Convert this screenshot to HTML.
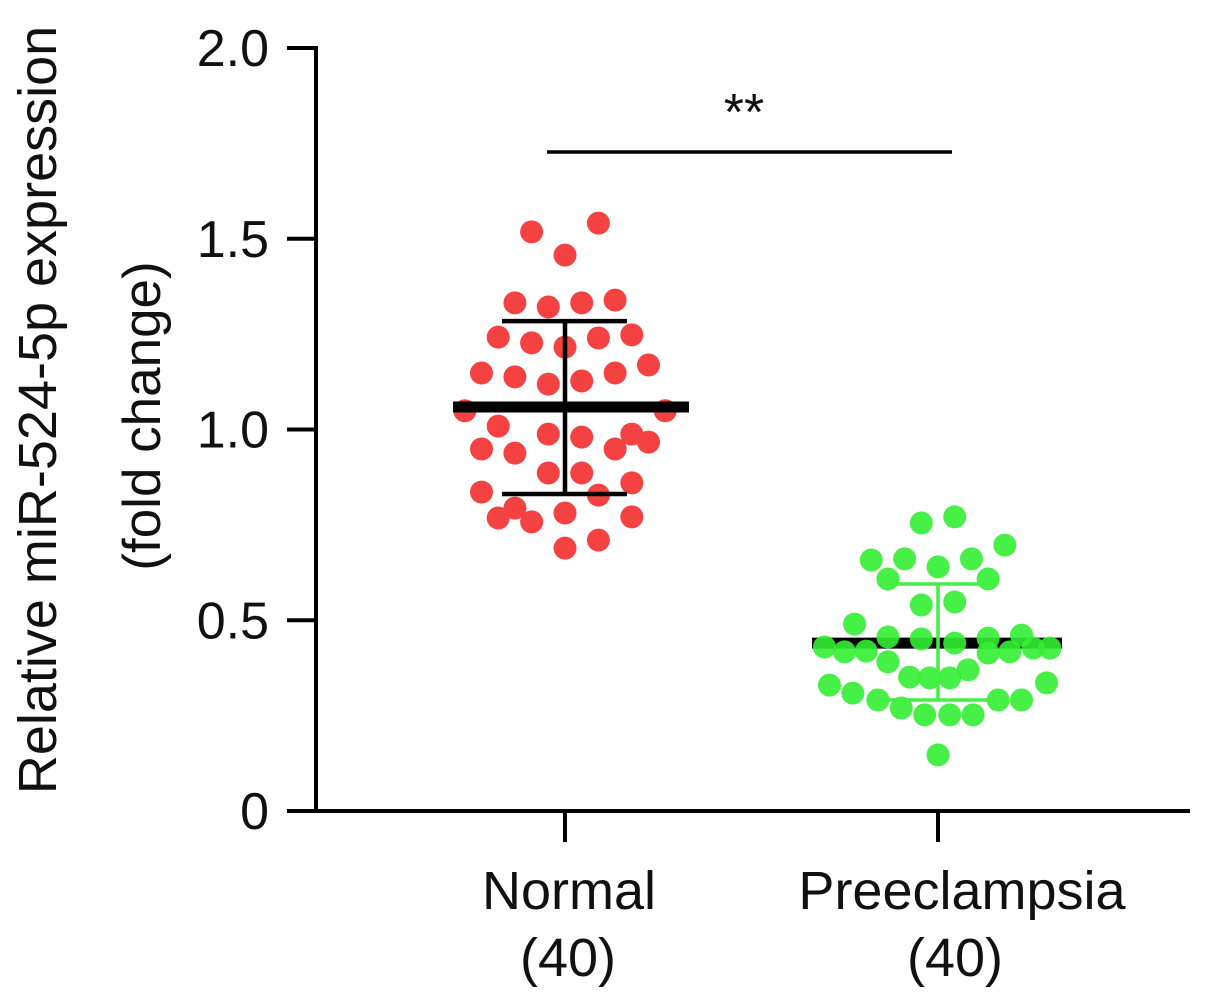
<!DOCTYPE html>
<html><head><meta charset="utf-8"><style>
html,body{margin:0;padding:0;background:#fff;}
svg{display:block;font-family:"Liberation Sans",Arial,sans-serif;}
</style></head><body>
<svg id="chart" width="1205" height="997" viewBox="0 0 1205 997" xmlns="http://www.w3.org/2000/svg">
<g id="axes"></g><g id="marks"></g>
</svg>
<script>
const yTicks=[0,0.5,1.0,1.5,2.0];
const yTickLabels=["0","0.5","1.0","1.5","2.0"];
const categories=["Normal","Preeclampsia"];
const counts=["(40)","(40)"];
const normalValues=[1.518,1.541,1.457,1.332,1.321,1.332,1.339,1.242,1.227,1.216,1.240,1.248,1.148,1.138,1.119,1.127,1.148,1.169,1.049,1.049,1.009,0.988,0.980,0.988,0.967,0.949,0.938,0.949,0.886,0.886,0.836,0.828,0.860,0.768,0.794,0.758,0.781,0.771,0.689,0.710];
const normalJitter=[-2,2,0,-3,-1,1,3,-4,-2,0,2,4,-5,-3,-1,1,3,5,-6,6,-4,-1,1,4,5,-5,-3,3,-1,1,-5,2,4,-4,-3,-2,0,4,0,2];
const preValues=[0.755,0.771,0.697,0.658,0.661,0.640,0.661,0.608,0.608,0.540,0.548,0.490,0.456,0.451,0.440,0.453,0.461,0.430,0.417,0.419,0.417,0.427,0.427,0.391,0.351,0.349,0.349,0.370,0.330,0.309,0.291,0.270,0.252,0.252,0.252,0.291,0.291,0.336,0.147,0.414];
const preJitter=[-1,1,4,-4,-2,0,2,-3,3,-1,1,-5,-3,-1,1,3,5,-6.8,-5.6,-4.3,4.3,5.7,6.7,-3,-1.7,-0.5,0.7,1.8,-6.5,-5.1,-3.6,-2.2,-0.8,0.7,2.1,3.6,5,6.5,0,3];
const means=[1.059,0.440];
const sdUpper=[1.284,0.595];
const sdLower=[0.831,0.291];

const NS="http://www.w3.org/2000/svg";
const y=v=>811-v*381.5;
const xc=i=>[565,938][i];
const labelShift=[4,24];
const step=16.7;
function mk(parent,tag,attrs,text){const e=document.createElementNS(NS,tag);for(const k in attrs)e.setAttribute(k,attrs[k]);if(text!==undefined)e.textContent=text;document.getElementById(parent).appendChild(e);return e;}

let e;
e=mk('axes','line',{x1:316,y1:46,x2:316,y2:813,stroke:'#000','stroke-width':4});


e=mk('axes','line',{x1:287,y1:811,x2:1190,y2:811,stroke:'#000','stroke-width':4});


yTicks.forEach((t,i)=>{
  e=mk('axes','line',{x1:287,y1:y(t),x2:316,y2:y(t),stroke:'#000','stroke-width':4});
  
  
  e=mk('axes','text',{x:269,y:y(t)+18,'text-anchor':'end','font-size':52,fill:'#111'},yTickLabels[i]);
  
  
});
categories.forEach((c,i)=>{
  e=mk('axes','line',{x1:xc(i),y1:811,x2:xc(i),y2:842,stroke:'#000','stroke-width':4});
  
  
  e=mk('axes','text',{x:xc(i)+labelShift[i],y:909,'text-anchor':'middle','font-size':54,fill:'#111'},c);
  
  
  e=mk('axes','text',{x:xc(i)+(i?17:3),y:976,'text-anchor':'middle','font-size':54,fill:'#111'},counts[i]);
  
  
});
e=mk('axes','text',{transform:'translate(56,410) rotate(-90)','text-anchor':'middle','font-size':54,fill:'#111'},'Relative miR-524-5p  expression');


e=mk('axes','text',{transform:'translate(160,416) rotate(-90)','text-anchor':'middle','font-size':53,fill:'#111'},'(fold change)');



// normal group
normalValues.forEach((v,i)=>{
  e=mk('marks','circle',{cx:xc(0)+normalJitter[i]*step,cy:y(v),r:11.5,fill:'#f44242'});
  
  
});
e=mk('marks','line',{x1:453,y1:y(means[0]),x2:689,y2:y(means[0]),stroke:'#000','stroke-width':11});


e=mk('marks','path',{d:`M${xc(0)} ${y(sdUpper[0])}V${y(sdLower[0])}M502 ${y(sdUpper[0])}H627M502 ${y(sdLower[0])}H627`,stroke:'#000','stroke-width':4.5,fill:'none'});



// preeclampsia group
e=mk('marks','line',{x1:812,y1:y(means[1]),x2:1062,y2:y(means[1]),stroke:'#000','stroke-width':11});


preValues.forEach((v,i)=>{
  e=mk('marks','circle',{cx:xc(1)+preJitter[i]*step,cy:y(v),r:11.5,fill:'#33ee33','fill-opacity':0.9});
  
  
});
e=mk('marks','path',{d:`M${xc(1)} ${y(sdUpper[1])}V${y(sdLower[1])}M880 ${y(sdUpper[1])}H996M880 ${y(sdLower[1])}H996`,stroke:'#44ee44','stroke-width':3.5,fill:'none'});



e=mk('marks','line',{x1:547,y1:152,x2:952,y2:152,stroke:'#000','stroke-width':3.5});


e=mk('marks','text',{x:744,y:130,'text-anchor':'middle','font-size':52,fill:'#111'},'**');


</script>
</body></html>
